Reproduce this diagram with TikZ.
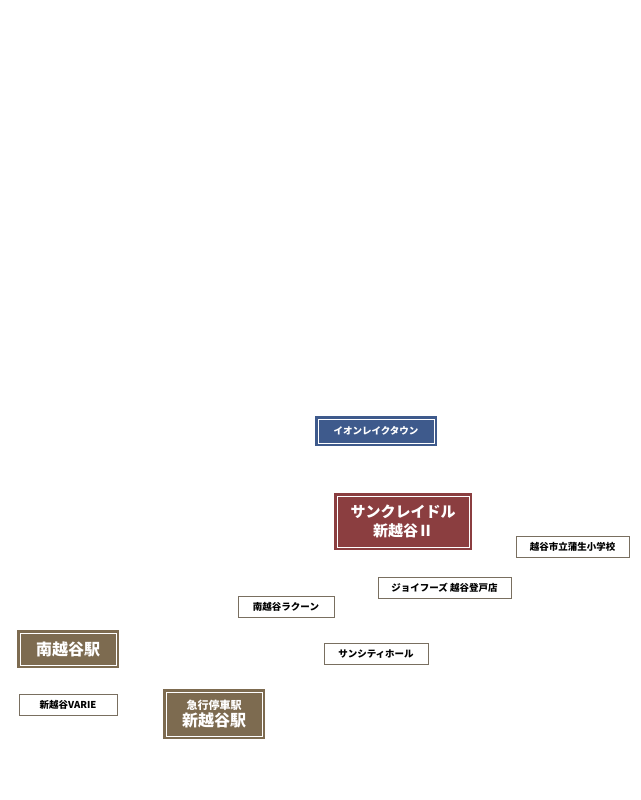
\documentclass[tikz,border=0pt]{standalone}
\usepackage{fontspec}
\setmainfont{Noto Sans CJK JP}
\tikzset{
  framed/.style={fill=#1, draw=white, line width=0.9pt, text=white,
    preaction={draw=#1, line width=6pt}, align=center, inner sep=0pt},
  spot/.style={fill=white, draw=brown!70!black!80, line width=1pt,
    font=\fontsize{9.5}{10}\selectfont\bfseries, inner sep=0pt,
    minimum height=21}
}
\definecolor{aeonblue}{HTML}{3E5A8C}
\definecolor{homered}{HTML}{8B3E40}
\definecolor{stationbrown}{HTML}{7D6B50}
\colorlet{brown}{stationbrown}
\begin{document}
\begin{tikzpicture}[x=1pt,y=-1pt]
\useasboundingbox (0,0) rectangle (640,800);

% featured labels
\node[framed=aeonblue, minimum width=116, minimum height=24,
  font=\fontsize{9.5}{10}\selectfont\bfseries] (aeon) at (376,431) {イオンレイクタウン};
\node[framed=homered, minimum width=132, minimum height=51,
  font=\fontsize{15}{19}\selectfont\bfseries] (home) at (403,521.5) {サンクレイドル\\新越谷Ⅱ};

% stations
\node[framed=stationbrown, minimum width=96, minimum height=32,
  font=\fontsize{16}{18}\selectfont\bfseries] (minami) at (68,649) {南越谷駅};
\node[framed=stationbrown, minimum width=96, minimum height=44,
  font=\fontsize{16}{17}\selectfont\bfseries] (shin) at (214,714)
  {{\fontsize{11}{13}\selectfont 急行停車駅}\\新越谷駅};

% spots
\node[spot, minimum width=113] (school) at (572.5,547) {越谷市立蒲生小学校};
\node[spot, minimum width=133] (joy) at (444.5,588) {ジョイフーズ\ 越谷登戸店};
\node[spot, minimum width=96] (laccoon) at (286,607) {南越谷ラクーン};
\node[spot, minimum width=104] (suncity) at (376,654) {サンシティホール};
\node[spot, minimum width=98] (varie) at (68,705) {新越谷VARIE};
\end{tikzpicture}
\end{document}
